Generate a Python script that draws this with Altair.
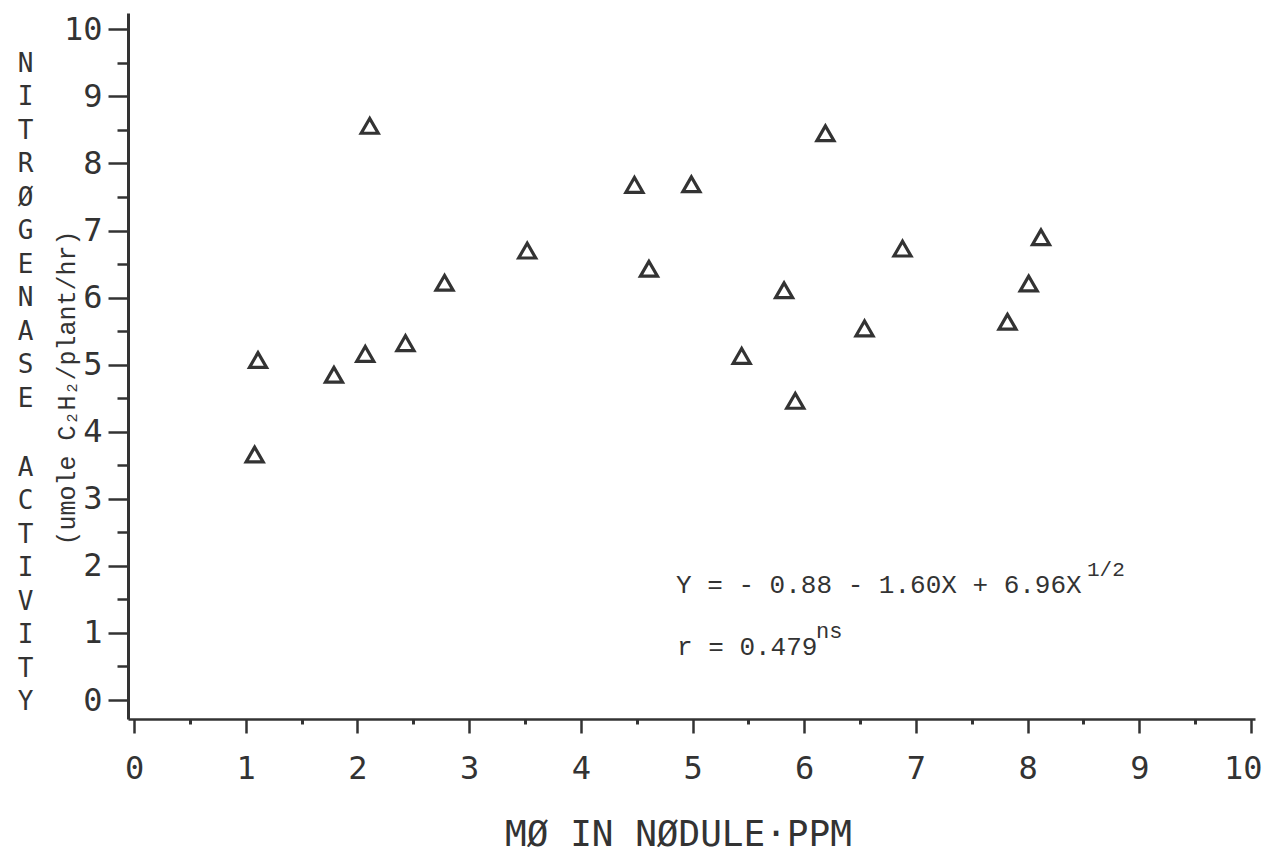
import altair as alt
import pandas as pd

# ---- data ----
mo_ppm = [1.08, 1.11, 1.79, 2.07, 2.11, 2.43, 2.78, 3.52, 4.48, 4.61,
          4.99, 5.44, 5.82, 5.92, 6.19, 6.54, 6.88, 7.82, 8.01, 8.12]
activity = [3.66, 5.07, 4.85, 5.16, 8.56, 5.32, 6.22, 6.70, 7.68, 6.43,
            7.69, 5.13, 6.11, 4.46, 8.45, 5.54, 6.73, 5.64, 6.21, 6.90]

x_major = [0, 1, 2, 3, 4, 5, 6, 7, 8, 9, 10]
x_minor = [0.5, 1.5, 2.5, 3.5, 4.5, 5.5, 6.5, 7.5, 8.5, 9.5]
y_major = [0, 1, 2, 3, 4, 5, 6, 7, 8, 9, 10]
y_minor = [0.5, 1.5, 2.5, 3.5, 4.5, 5.5, 6.5, 7.5, 8.5, 9.5]

x_title = "MØ IN NØDULE·PPM"
y_title_word1 = ["N", "I", "T", "R", "Ø", "G", "E", "N", "A", "S", "E"]
y_title_word2 = ["A", "C", "T", "I", "V", "I", "T", "Y"]
y_units = "(umole C₂H₂/plant/hr)"
eq_text = "Y = - 0.88 - 1.60X + 6.96X"
eq_exp = "1/2"
r_text = "r = 0.479"
r_exp = "ns"

INK = "#333333"
MONO = "DejaVu Sans Mono"
TYPE = "Liberation Mono"

df = pd.DataFrame({"mo": mo_ppm, "act": activity})

xscale = alt.Scale(domain=[-0.054, 10.036], nice=False, zero=False)
yscale = alt.Scale(domain=[-0.283, 10.243], nice=False, zero=False)

title_style = dict(titleFont=MONO, titleFontSize=26, titleFontWeight="normal",
                   titleColor=INK, titleAngle=0, titleX=-103, titleAlign="center",
                   titleBaseline="middle", titleLineHeight=33.5)

points = alt.Chart(df).mark_point(
    shape="triangle-up", size=290, filled=False, strokeWidth=3.2,
    color=INK, opacity=1
).encode(
    x=alt.X("mo:Q", scale=xscale, axis=alt.Axis(
        values=x_major, orient="bottom", tickSize=14, tickWidth=2.5, tickColor=INK,
        domainColor=INK, domainWidth=2.5, labelFont=MONO, labelFontSize=32,
        labelColor=INK, labelPadding=20, labelFlush=5, labelFlushOffset=11,
        title=x_title, titleFont=MONO, titleFontSize=36, titleFontWeight="normal",
        titleColor=INK, titleX=550, titleY=126, titleAlign="center",
        titleBaseline="alphabetic", grid=False)),
    y=alt.Y("act:Q", scale=yscale, axis=alt.Axis(
        values=y_major, orient="left", tickSize=20, tickWidth=2.5, tickColor=INK,
        domainColor=INK, domainWidth=3, labelFont=MONO, labelFontSize=32,
        labelColor=INK, labelPadding=6, labelFlush=False, labelBaseline="middle",
        title=y_title_word1, titleY=50, grid=False, **title_style)),
)

minor = alt.Chart(df).mark_point(opacity=0).encode(
    x=alt.X("mo:Q", scale=xscale, axis=alt.Axis(
        values=x_minor, orient="bottom", tickSize=5, tickWidth=3, tickColor=INK,
        labels=False, domain=False, title=None, grid=False)),
    y=alt.Y("act:Q", scale=yscale, axis=alt.Axis(
        values=y_minor, orient="left", tickSize=11, tickWidth=2.5, tickColor=INK,
        labels=False, domain=False, grid=False,
        title=y_title_word2, titleY=454, **title_style)),
)


def label(text, x, y, size, font=TYPE, angle=0, align="left", baseline="alphabetic"):
    return alt.Chart(pd.DataFrame({"t": [text]})).mark_text(
        font=font, fontSize=size, color=INK, align=align, baseline=baseline,
        angle=angle
    ).encode(text="t:N", x=alt.value(x), y=alt.value(y))


units = label(y_units, -61, 375, 25, angle=270, align="center", baseline="middle")
eq_main = label(eq_text, 548, 580, 26)
eq_sup = label(eq_exp, 959, 563, 21)
r_main = label(r_text, 549, 642, 26)
r_sup = label(r_exp, 688, 625, 22)

chart = alt.layer(points, minor, units, eq_main, eq_sup, r_main, r_sup).resolve_axis(
    x="independent", y="independent"
).properties(
    width=1127, height=706,
    autosize="none",
    padding={"left": 128, "top": 13, "right": 11, "bottom": 133},
    background="white",
).configure_view(stroke=None)

chart.save("out.html", embed_options={"renderer": "svg", "actions": False})
